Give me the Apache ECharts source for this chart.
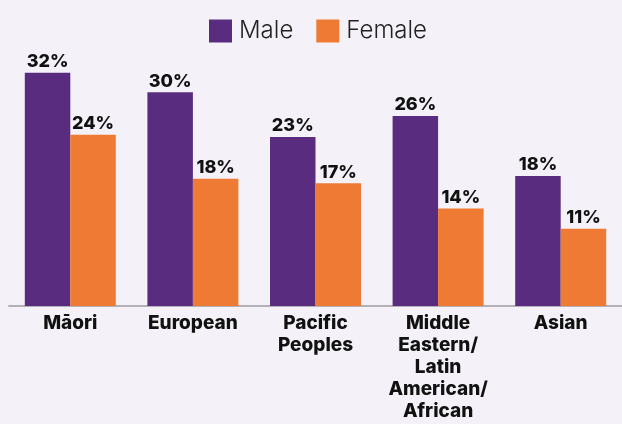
<!DOCTYPE html>
<html>
<head>
    <meta charset="utf-8" />
    <title></title>
    <style>
        html, body { margin: 0; padding: 0; background: #f4f2f8; }
        #barchart { width: 622px; height: 424px; }
    </style>
</head>
<body>
    <div id="barchart"></div>
    <script src="https://cdn.jsdelivr.net/npm/echarts@6/dist/echarts.min.js"></script>
    <script>
        var categories = ['Māori', 'European', 'Pacific\nPeoples', 'Middle\nEastern/\nLatin\nAmerican/\nAfrican', 'Asian'];
        var maleValues = [32.3, 29.6, 23.4, 26.3, 18.0];
        var femaleValues = [23.7, 17.6, 17.0, 13.5, 10.7];

        var labelStyle = {
            show: true,
            position: 'top',
            distance: 2,
            fontFamily: 'Inter',
            fontWeight: 800,
            fontSize: 18,
            color: '#111',
            formatter: function (p) { return Math.round(p.value) + '%'; }
        };

        var option = {
            backgroundColor: '#f4f2f8',
            animation: false,
            textStyle: { fontFamily: 'Inter' },
            legend: {
                top: 14,
                left: 204,
                itemWidth: 23,
                itemHeight: 23,
                itemGap: 23,
                icon: 'rect',
                textStyle: { fontSize: 24, fontWeight: 300, color: '#222', fontFamily: 'Inter', padding: [0, 0, 0, 2] },
                data: ['Male', 'Female']
            },
            grid: { left: 9, right: 0, top: 17, bottom: 118, containLabel: false },
            xAxis: {
                type: 'category',
                data: categories,
                axisTick: { show: false },
                axisLine: { lineStyle: { color: '#b3b1b6', width: 2 } },
                axisLabel: {
                    interval: 0,
                    margin: 6,
                    fontFamily: 'Inter',
                    fontWeight: 800,
                    fontSize: 19,
                    lineHeight: 22,
                    color: '#111'
                }
            },
            yAxis: {
                type: 'value',
                min: 0,
                max: 40,
                show: false,
                splitLine: { show: false }
            },
            series: [{
                name: 'Male',
                type: 'bar',
                barWidth: 45.5,
                barGap: '0%',
                itemStyle: { color: '#5a2c80' },
                label: labelStyle,
                data: maleValues
            }, {
                name: 'Female',
                type: 'bar',
                barWidth: 45.5,
                barGap: '0%',
                itemStyle: { color: '#ef7a33' },
                label: labelStyle,
                data: femaleValues
            }]
        };

        var barChart = echarts.init(document.getElementById('barchart'));
        barChart.setOption(option);
    </script>
</body>
</html>
